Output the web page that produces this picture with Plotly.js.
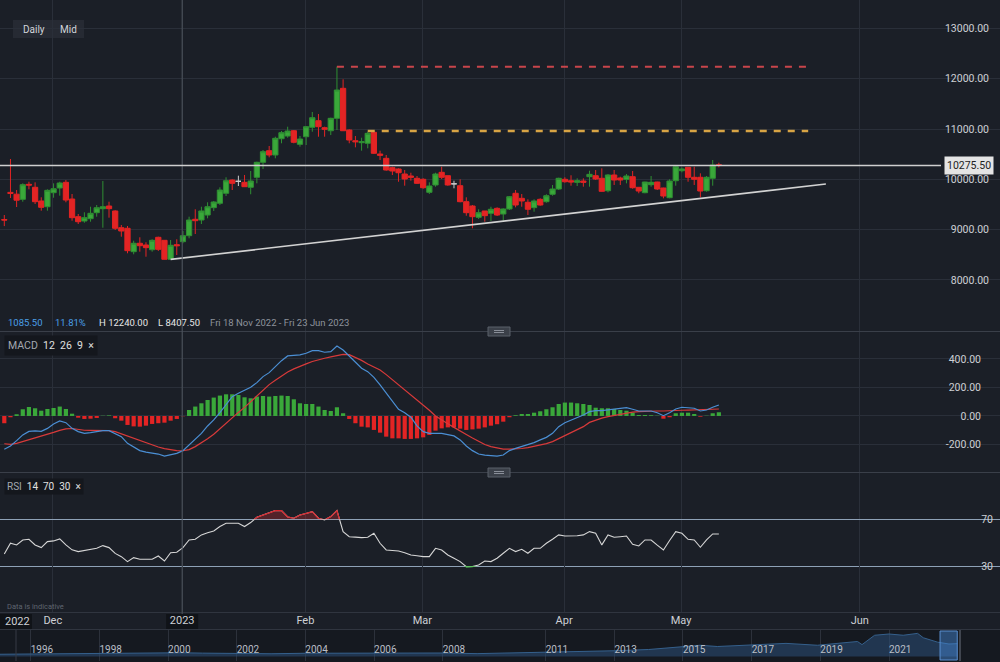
<!DOCTYPE html>
<html><head><meta charset="utf-8">
<script src="https://cdn.plot.ly/plotly-3.0.1.min.js"></script>
<style>html,body{margin:0;padding:0;background:#1b1f27;}#chart{width:1000px;height:662px;}</style>
</head><body><div id="chart"></div>
<script>
// ---------- DATA ----------
const dates = ['2022-11-18','2022-11-21','2022-11-22','2022-11-23','2022-11-25','2022-11-28','2022-11-29','2022-11-30',
'2022-12-01','2022-12-02','2022-12-05','2022-12-06','2022-12-07','2022-12-08','2022-12-09','2022-12-12','2022-12-13','2022-12-14','2022-12-15','2022-12-16','2022-12-19','2022-12-20','2022-12-21','2022-12-22','2022-12-23','2022-12-27','2022-12-28','2022-12-29','2022-12-30',
'2023-01-03','2023-01-04','2023-01-05','2023-01-06','2023-01-09','2023-01-10','2023-01-11','2023-01-12','2023-01-13','2023-01-17','2023-01-18','2023-01-19','2023-01-20','2023-01-23','2023-01-24','2023-01-25','2023-01-26','2023-01-27','2023-01-30','2023-01-31',
'2023-02-01','2023-02-02','2023-02-03','2023-02-06','2023-02-07','2023-02-08','2023-02-09','2023-02-10','2023-02-13','2023-02-14','2023-02-15','2023-02-16','2023-02-17','2023-02-21','2023-02-22','2023-02-23','2023-02-24','2023-02-27','2023-02-28',
'2023-03-01','2023-03-02','2023-03-03','2023-03-06','2023-03-07','2023-03-08','2023-03-09','2023-03-10','2023-03-13','2023-03-14','2023-03-15','2023-03-16','2023-03-17','2023-03-20','2023-03-21','2023-03-22','2023-03-23','2023-03-24','2023-03-27','2023-03-28','2023-03-29','2023-03-30','2023-03-31',
'2023-04-03','2023-04-04','2023-04-05','2023-04-06','2023-04-10','2023-04-11','2023-04-12','2023-04-13','2023-04-14','2023-04-17','2023-04-18','2023-04-19','2023-04-20','2023-04-21','2023-04-24','2023-04-25','2023-04-26','2023-04-27','2023-04-28',
'2023-05-01','2023-05-02','2023-05-03','2023-05-04','2023-05-05','2023-05-08','2023-05-09'];

const open = [9200,9740,9704,9602,9900,9841,9569,9455,9734,9827, 9940,9608,9257,9171,9217,9336,9416,9469,9370,9038, 9026,8561,8728,8694,8600,8847,8787,8410,8700,8760, 8879,9205,9191,9290,9436,9523,9722,9986,9960,9940, 9841,10040,10338,10569,10483,10807,10861,10966,10695,10847, 11034,11165,11026,10966,11213,11809,10980,10767,10728,10716, 10934,10503,10417,10231,10205,10105,10066,10020,10000,9741, 9887,10139,10072,9910,9873,9555,9469,9244,9370,9324, 9423,9310,9410,9722,9622,9543,9436,9602,9555,9702, 9807,10000,9972,9940,9966,10052,10072,10020,9773,10086, 10026,10000,10052,9841,9734,9893,9946,9827,9634,9972, 10171,10238,10040,10040,9773,10020,10290];
const high = [9290,10404,9787,9920,9952,9940,9642,9801,9920,9952, 9986,9708,9310,9344,9455,9489,9966,9555,9384,9092, 9072,8779,8847,8748,8807,8859,8793,8793,8807,8972, 9257,9404,9455,9543,9569,9841,10040,10000,10072,10086, 10165,10350,10583,10662,10847,10960,11046,10980,10861,11060, 11338,11298,11046,11225,12240,11988,10994,10861,10827,10946, 10960,10569,10483,10250,10218,10185,10131,10066,10020,9940, 10131,10250,10072,9972,10000,9642,9489,9404,9370,9455, 9443,9423,9668,9787,9708,9602,9602,9622,9702,9887, 10032,10040,10080,10020,10020,10171,10185,10218,10105,10185, 10052,10105,10165,9841,9952,10066,9952,9833,10000,10264, 10238,10238,10250,10119,10066,10384,10330];
const low = [9070,9628,9449,9555,9801,9509,9376,9376,9634,9674, 9543,9177,9111,9137,9157,9257,9038,9237,8992,8859, 8529,8509,8561,8461,8561,8575,8407.5,8410,8495,8728, 8827,8912,9111,9224,9370,9489,9668,9787,9867,9853, 9702,9920,10205,10437,10417,10716,10827,10716,10648,10682, 10946,10847,10847,10880,10980,10966,10716,10636,10569,10616, 10503,10384,10171,10085,9952,9873,9972,9906,9813,9708, 9853,10006,9873,9821,9543,9276,9026,9211,9157,9171, 9270,9177,9390,9443,9455,9290,9356,9475,9535,9674, 9787,9932,9873,9867,9853,9853,9986,9754,9741,9887, 9887,9920,9813,9722,9722,9853,9787,9622,9622,9873, 10139,9952,9887,9642,9754,9873,10238];
const close = [9190,9720,9585,9893,9885,9555,9443,9781,9813,9926, 9588,9237,9157,9237,9324,9435,9455,9416,9026,8972, 8581,8728,8680,8641,8787,8608,8410,8688,8680,8879, 9191,9177,9370,9455,9549,9787,9972,9920,9960,9853, 9966,10338,10549,10483,10815,10927,10960,10736,10801,11046, 11225,11046,10994,11213,11775,10966,10781,10747,10747,10914, 10517,10477,10185,10165,10131,10006,10040,9920,9833,9867, 10105,10040,9887,9910,9555,9336,9257,9336,9277,9404, 9290,9410,9654,9489,9569,9404,9569,9489,9674,9807, 10020,9952,9946,9972,9940,10099,10006,9761,10086,9986, 9986,10066,9833,9767,9946,9940,9807,9668,9966,10250, 10205,10040,10000,9767,10040,10284,10275.5];

const macdLine = [-234,-211,-173,-133,-108,-105,-108,-87,-56,-35, -47,-87,-110,-122,-117,-110,-103,-103,-122,-145, -192,-220,-243,-253,-258,-267,-281,-272,-262,-243, -204,-164,-122,-70,-28,23,82,135,159,178, 201,234,276,304,346,388,421,426,428,440, 458,458,447,451,491,463,421,374,335,311, 271,218,159,100,47,23,-9,-70,-110,-122, -122,-122,-131,-140,-168,-211,-243,-267,-274,-278, -281,-274,-243,-227,-215,-204,-187,-168,-150,-122, -75,-47,-28,-14,7,30,37,37,42,47, 54,58,47,35,35,35,23,2,23,49, 61,58,54,35,42,61,77];
const signalLine = [-195,-199,-192,-180,-168,-155,-142,-129,-115,-101, -90,-88,-95,-100,-101,-101,-102,-103,-110,-125, -142,-158,-175,-190,-205,-218,-229,-237,-243,-244, -236,-215,-190,-160,-128,-90,-50,-8,25,60, 100,140,180,220,250,280,308,330,350,365, 382,396,405,414,425,432,430,412,390,365, 342,322,290,255,218,185,150,112,77,40, 0,-30,-55,-80,-108,-130,-155,-180,-200,-215, -226,-232,-233,-232,-228,-222,-213,-203,-194,-180, -160,-138,-115,-95,-75,-45,-28,-15,-5,3, 15,22,27,30,33,35,35,35,35,37, 40,41,42,44,45,47,49];
const macdHist = [-51,-9,12,47,63,54,37,49,56,66, 49,16,-12,-21,-19,-14,2,4,-16,-33, -63,-73,-75,-68,-56,-51,-47,-33,-21,-2, 42,66,89,112,129,143,152,152,147,131, 124,136,140,136,140,143,140,117,89,84, 84,66,42,35,61,19,-21,-51,-75,-80, -98,-117,-145,-157,-157,-161,-161,-157,-150,-133, -103,-87,-80,-80,-89,-98,-94,-89,-80,-68, -58,-40,-9,5,14,14,23,33,47,61, 84,94,94,89,84,77,58,54,54,49, 42,37,23,7,7,5,2,-19,-9,19, 23,23,14,-5,2,19,26];
const rsi = [40.5,49.6,48.2,52.4,53,48.2,45.9,51,51.6,53.3, 48.2,44,42.5,43.3,44.5,45.3,47.6,45.9,41,38.2, 34,37.4,36,36,36,38.8,34.5,41.6,41.9,45.9, 52.4,53,56.7,58.5,60.1,63.8,66.6,66.6,66.6,63.8, 67.2,71.7,73.7,75.1,77.4,77.4,72,70.9,73.7,75, 76.5,70.9,69.4,72.3,77.4,59.5,55.2,54.8,54.4,54.7, 58.1,49.6,43.9,43.5,43,41.6,39.6,39,38.2,38.2, 45.3,43.9,39.6,36.8,34,29.6,29.8,31.1,34.5,34, 36.8,41.1,45.3,42.5,44.5,41.1,45.3,45.3,49.6,53, 56.7,55.8,55.8,56,56.7,59.5,58.1,48.2,56.7,54.7, 55.2,55.8,48.7,47.3,52.4,52.4,48,43.9,52,59.5, 58.1,53,52.4,46.2,52.4,57.5,57.5];

const holidays = ['2022-11-24','2022-12-26','2023-01-02','2023-01-16','2023-02-20','2023-04-07'];
const monthTicks = ['2022-12-01','2023-01-03','2023-02-01','2023-03-01','2023-04-03','2023-05-01','2023-06-01'];
const monthLabels = ['Dec','2023','Feb','Mar','Apr','May','Jun'];
const priceTicks = [8000,9000,10000,11000,12000,13000];
const macdTicks = [-200,0,200,400];
const macdTickText = ['-200.00','0.00','200.00','400.00'];
const rsiTicks = [30,70];
const resistHighX = ['2023-02-08 12:00','2023-05-24'];
const resistHigh = [12240,12240];
const resistMidX = ['2023-02-15 12:00','2023-05-24'];
const resistMid = [10960,10960];
const trendX = ['2022-12-29 12:00','2023-05-26 21:00'];
const trendY = [8407.5,9906];

const navDates = ['1995-02-01','1996-01-01','1997-01-01','1998-01-01','1999-01-01','2000-01-01','2000-06-01','2001-01-01','2002-01-01','2003-01-01','2004-01-01','2005-01-01','2006-01-01','2007-01-01','2008-01-01','2009-01-01','2010-01-01','2011-01-01','2012-01-01','2013-01-01','2014-01-01','2015-01-01','2015-07-01','2016-01-01','2017-01-01','2018-01-01','2018-12-01','2019-06-01','2020-02-01','2020-03-20','2020-08-01','2021-01-01','2021-06-01','2021-11-01','2022-01-01','2022-06-01','2022-10-01','2022-12-30'];
const navValues = [1800,2000,2300,2500,2900,3300,3000,2700,2300,2200,2600,2700,3000,3300,2800,2300,2900,3300,3600,4600,5600,7500,9000,8000,9500,10500,9000,10500,12000,9500,17000,18000,17000,18500,15000,11500,10000,10300];
const navTickVals = ['1996-01-01','1998-01-01','2000-01-01','2002-01-01','2004-01-01','2006-01-01','2008-01-01','2011-01-01','2013-01-01','2015-01-01','2017-01-01','2019-01-01','2021-01-01'];
const navTickText = ['1996','1998','2000','2002','2004','2006','2008','2011','2013','2015','2017','2019','2021'];

// ---------- BUILD ----------
const GREEN = '#3aa83a', GREEN_LINE = '#2f8f33', RED = '#e32424';
const H = 662;
const py = px => 1 - px / H;   // pixel row -> paper fraction

function weekendDays(start, end) {
  const out = []; const d = new Date(start + 'T00:00:00Z'); const e = new Date(end + 'T00:00:00Z');
  while (d <= e) { const w = d.getUTCDay(); if (w === 0 || w === 6) out.push(d.toISOString().slice(0, 10)); d.setUTCDate(d.getUTCDate() + 1); }
  return out;
}
const breaks = weekendDays(dates[0], dates[dates.length - 1]).concat(holidays);
const xs = dates.map(d => d + ' 12:00');
const tickXs = monthTicks.map(d => d + ' 09:00');
const pick = (arr, idx) => idx.map(i => arr[i]);
const moveIdx = [], flatIdx = [];
open.forEach((o, i) => (o === close[i] ? flatIdx : moveIdx).push(i));

const lastClose = close[close.length - 1];
const change = lastClose - close[0];
const pct = change / close[0] * 100;
const hi = Math.max(...high), lo = Math.min(...low);

const traces = [
  {type:'candlestick', x:pick(xs,moveIdx), open:pick(open,moveIdx), high:pick(high,moveIdx), low:pick(low,moveIdx), close:pick(close,moveIdx),
   xaxis:'x', yaxis:'y', whiskerwidth:0,
   increasing:{line:{color:GREEN_LINE,width:1}, fillcolor:GREEN},
   decreasing:{line:{color:RED,width:1}, fillcolor:RED}, hoverinfo:'skip'},
  {type:'candlestick', x:pick(xs,flatIdx), open:pick(open,flatIdx), high:pick(high,flatIdx), low:pick(low,flatIdx), close:pick(close,flatIdx),
   xaxis:'x', yaxis:'y', whiskerwidth:0,
   increasing:{line:{color:'#c9c9c9',width:1}, fillcolor:'#c9c9c9'},
   decreasing:{line:{color:'#c9c9c9',width:1}, fillcolor:'#c9c9c9'}, hoverinfo:'skip'},
  {type:'scatter', mode:'lines', x:trendX, y:trendY, xaxis:'x', yaxis:'y', line:{color:'#d2d2d2', width:1.6}, hoverinfo:'skip'},
  {type:'scatter', mode:'lines', x:resistHighX, y:resistHigh, xaxis:'x', yaxis:'y', line:{color:'#c9454b', width:2, dash:'7px,7px'}, hoverinfo:'skip'},
  {type:'scatter', mode:'lines', x:resistMidX, y:resistMid, xaxis:'x', yaxis:'y', line:{color:'#d8a444', width:2.5, dash:'7px,7px'}, hoverinfo:'skip'},
  {type:'bar', x:xs, y:macdHist, xaxis:'x', yaxis:'y2', marker:{color:macdHist.map(v => v >= 0 ? GREEN : RED), line:{width:0}}, hoverinfo:'skip'},
  {type:'scatter', mode:'lines', x:xs, y:signalLine, xaxis:'x', yaxis:'y2', line:{color:'#d83a3a', width:1.2}, hoverinfo:'skip'},
  {type:'scatter', mode:'lines', x:xs, y:macdLine, xaxis:'x', yaxis:'y2', line:{color:'#4b8fd4', width:1.2}, hoverinfo:'skip'},
  {type:'scatter', mode:'lines', x:xs, y:rsi, xaxis:'x', yaxis:'y3', line:{color:'#d6d6d6', width:1.1}, hoverinfo:'skip'},
  {type:'scatter', mode:'lines', x:xs, y:rsi, xaxis:'x', yaxis:'y5', fill:'tozeroy', fillcolor:'rgba(190,40,45,0.35)', line:{color:'#d8262c', width:1.2}, hoverinfo:'skip'},
  {type:'scatter', mode:'lines', x:xs, y:rsi, xaxis:'x', yaxis:'y6', line:{color:'#3fbf3f', width:1.4}, hoverinfo:'skip'},
  {type:'scatter', mode:'lines', x:navDates, y:navValues, xaxis:'x2', yaxis:'y4', fill:'tozeroy', fillcolor:'rgba(44,78,120,0.55)', line:{color:'#35608c', width:1}, hoverinfo:'skip'}
];

const gridC = '#2a2f39';
const axisFont = {family:'Roboto, Arial, sans-serif', size:10.5, color:'#cdd0d5'};
const ann = (o) => Object.assign({xref:'paper', yref:'paper', xanchor:'left', yanchor:'middle', showarrow:false}, o);
const layout = {
  width:1000, height:662, margin:{l:0,r:0,t:0,b:0},
  paper_bgcolor:'#1b1f27', plot_bgcolor:'rgba(0,0,0,0)', showlegend:false, hovermode:false,
  font:{family:'Roboto, Arial, sans-serif', color:'#cdd0d5', size:10},
  bargap:0.32, boxgap:0.1, boxgroupgap:0.05,
  xaxis:{type:'date', domain:[0,1], anchor:'y3', range:['2022-11-17 19:15','2023-06-24 03:20'],
    rangebreaks:[{values:breaks}], rangeslider:{visible:false},
    tickmode:'array', tickvals:tickXs, ticktext:monthLabels, ticks:'', showgrid:true, gridcolor:gridC,
    zeroline:false, showline:false, tickfont:{family:'Roboto, Arial, sans-serif', size:11, color:'#cdd0d5'}, fixedrange:true},
  yaxis:{domain:[py(331),1], range:[6984,13565], anchor:'x', side:'right', tickmode:'array', tickvals:priceTicks,
    tickformat:'.2f', ticklabelposition:'inside', ticklabelstandoff:8, showgrid:true, gridcolor:gridC, zeroline:false, showline:false, ticks:'', tickfont:axisFont},
  yaxis2:{domain:[py(472),py(332)], range:[-393,589], anchor:'x', side:'right', tickmode:'array', tickvals:macdTicks, ticktext:macdTickText,
    ticklabelposition:'inside', ticklabelstandoff:16, showgrid:true, gridcolor:gridC, zeroline:false, showline:false, ticks:'', tickfont:axisFont},
  yaxis3:{domain:[py(612),py(473)], range:[-8.9,109.4], anchor:'x', side:'right', tickmode:'array', tickvals:rsiTicks,
    ticklabelposition:'inside', ticklabelstandoff:4, showgrid:true, gridcolor:'#8ea1b6', gridwidth:1, zeroline:false, showline:false, ticks:'', tickfont:axisFont},
  yaxis5:{domain:[py(519.3),py(473)], range:[70,109.4], anchor:'x', visible:false, fixedrange:true},
  yaxis6:{domain:[py(612),py(566.3)], range:[-8.9,30], anchor:'x', visible:false, fixedrange:true},
  xaxis2:{type:'date', domain:[0,1], anchor:'y4', range:['1995-02-08','2024-03-27'], tickmode:'array', tickvals:navTickVals, ticktext:navTickText,
    ticklabelposition:'inside right', ticks:'', showgrid:true, gridcolor:'#2c313b', zeroline:false, showline:false,
    tickfont:{family:'Roboto, Arial, sans-serif', size:10, color:'#b9bec6'}},
  yaxis4:{domain:[py(661),py(630)], range:[-3600,21200], visible:false},
  shapes:[
    {type:'rect', xref:'paper', yref:'paper', x0:0, x1:1, y0:py(662), y1:py(629), fillcolor:'#151920', line:{width:0}, layer:'below'},
    {type:'rect', xref:'x2', yref:'paper', x0:'2022-06-28', x1:'2022-12-28', y0:py(660), y1:py(631), fillcolor:'rgba(70,140,220,0.45)', line:{color:'#5a8fd0', width:1}, layer:'above'},
    {type:'line', xref:'paper', yref:'paper', x0:0.96, x1:0.96, y0:py(661), y1:py(630), line:{color:'#40454f', width:2}},
    {type:'line', xref:'paper', yref:'paper', x0:0.016, x1:0.016, y0:py(661), y1:py(630), line:{color:'#363b45', width:1}},
    {type:'line', xref:'paper', yref:'paper', x0:0, x1:1, y0:py(629.5), y1:py(629.5), line:{color:'#30353f', width:1}},
    {type:'line', xref:'paper', yref:'paper', x0:0, x1:1, y0:py(331.5), y1:py(331.5), line:{color:'#3a3f49', width:1}},
    {type:'line', xref:'paper', yref:'paper', x0:0, x1:1, y0:py(472.5), y1:py(472.5), line:{color:'#3a3f49', width:1}},
    {type:'line', xref:'paper', yref:'paper', x0:0, x1:1, y0:py(612.5), y1:py(612.5), line:{color:'#30353f', width:1}},
    {type:'line', xref:'x', yref:'paper', x0:tickXs[1], x1:tickXs[1], y0:py(614), y1:1, line:{color:'#50555f', width:1}},
    {type:'rect', xref:'x', xsizemode:'pixel', xanchor:tickXs[1], x0:-16, x1:16, yref:'paper', y0:py(629), y1:py(614), fillcolor:'#101318', line:{width:0}, layer:'below'},
    {type:'rect', xref:'paper', yref:'paper', x0:0, x1:0.032, y0:py(629), y1:py(614), fillcolor:'#101318', line:{width:0}, layer:'below'},
    {type:'rect', xref:'paper', yref:'paper', x0:0.488, x1:0.51, y0:py(336), y1:py(327), fillcolor:'#3b4049', line:{color:'#5b606a', width:1}},
    {type:'rect', xref:'paper', yref:'paper', x0:0.488, x1:0.51, y0:py(477), y1:py(468), fillcolor:'#3b4049', line:{color:'#5b606a', width:1}},
    {type:'line', xref:'paper', yref:'paper', x0:0.494, x1:0.504, y0:py(330.5), y1:py(330.5), line:{color:'#8a8f99', width:1}},
    {type:'line', xref:'paper', yref:'paper', x0:0.494, x1:0.504, y0:py(332.5), y1:py(332.5), line:{color:'#8a8f99', width:1}},
    {type:'line', xref:'paper', yref:'paper', x0:0.494, x1:0.504, y0:py(471.5), y1:py(471.5), line:{color:'#8a8f99', width:1}},
    {type:'line', xref:'paper', yref:'paper', x0:0.494, x1:0.504, y0:py(473.5), y1:py(473.5), line:{color:'#8a8f99', width:1}},
    {type:'line', xref:'paper', x0:0, x1:0.941, yref:'y', y0:lastClose, y1:lastClose, line:{color:'#cfcfcf', width:1.5}},
    {type:'rect', xref:'paper', yref:'paper', x0:0.013, x1:0.084, y0:py(38), y1:py(20), fillcolor:'#262a33', line:{width:0}, layer:'below'}
  ],
  annotations:[
    {xref:'paper', yref:'y', x:0.9685, y:lastClose, xanchor:'center', yanchor:'middle', text:lastClose.toFixed(2), showarrow:false, bgcolor:'#e4e4e4', borderpad:2, font:{size:10.5, color:'#222'}},
    ann({x:0.021, y:py(29), text:'Daily', font:{size:10, color:'#d2d5da'}}),
    ann({x:0.058, y:py(29), text:'Mid', font:{size:10, color:'#d2d5da'}}),
    ann({x:0.006, y:py(322.5), text:change.toFixed(2), font:{size:9.5, color:'#4a9fe8'}}),
    ann({x:0.053, y:py(322.5), text:pct.toFixed(2)+'%', font:{size:9.5, color:'#4a9fe8'}}),
    ann({x:0.097, y:py(322.5), text:'H '+hi.toFixed(2), font:{size:9.5, color:'#e6e6e6'}}),
    ann({x:0.156, y:py(322.5), text:'L '+lo.toFixed(2), font:{size:9.5, color:'#e6e6e6'}}),
    ann({x:0.208, y:py(322.5), text:'Fri 18 Nov 2022 - Fri 23 Jun 2023', font:{size:9.5, color:'#8d939c'}}),
    ann({x:0.004, y:py(345), bgcolor:'#14171d', borderpad:3,
     text:'MACD&nbsp;&nbsp;<span style="color:#e0e0e0">12&nbsp;&nbsp;26&nbsp;&nbsp;9&nbsp;&nbsp;×</span>', font:{size:10.5, color:'#a3a8b0'}}),
    ann({x:0.004, y:py(486), bgcolor:'#14171d', borderpad:2,
     text:'RSI&nbsp;&nbsp;<span style="color:#e0e0e0">14&nbsp;&nbsp;70&nbsp;&nbsp;30&nbsp;&nbsp;×</span>', font:{size:10, color:'#a3a8b0'}}),
    ann({x:0.005, y:py(606), text:'Data is indicative', font:{size:7.5, color:'#5f6570'}}),
    ann({x:0.017, y:py(621.5), xanchor:'center', text:'2022', font:{size:11, color:'#cdd0d5'}})
  ]
};
Plotly.newPlot('chart', traces, layout, {displayModeBar:false, staticPlot:true});
</script></body></html>
